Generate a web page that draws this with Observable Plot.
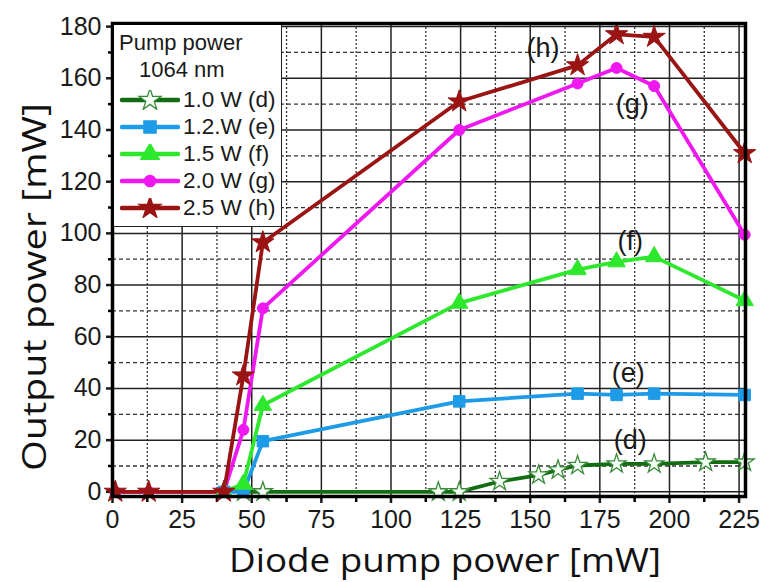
<!DOCTYPE html>
<html>
<head>
<meta charset="utf-8">
<script src="https://cdn.jsdelivr.net/npm/d3@7"></script>
<script src="https://cdn.jsdelivr.net/npm/@observablehq/plot@0.6"></script>
<style>
  html, body { margin: 0; padding: 0; background: #fff; }
  #wrap { position: relative; width: 764px; height: 582px; overflow: hidden; }
  #legend { position: absolute; background: #fff; border-right: 1.5px solid #222; border-bottom: 1.5px solid #222;
            font-family: "Liberation Sans", Arial, sans-serif; color: #1a1a1a; }
  .lg-row { position: absolute; display: flex; align-items: center; }
  .lg-row span { font-size: 22.5px; white-space: nowrap; margin-left: 3px; }
</style>
</head>
<body>
<div id="wrap"></div>
<script>
// ---------- data ----------
const xTicks = [0, 25, 50, 75, 100, 125, 150, 175, 200, 225];
const xMinor = [12.5, 37.5, 62.5, 87.5, 112.5, 137.5, 162.5, 187.5, 212.5];
const yTicks = [0, 20, 40, 60, 80, 100, 120, 140, 160, 180];
const yMinor = [10, 30, 50, 70, 90, 110, 130, 150, 170];

const seriesNames  = ["1.0 W (d)", "1.2.W (e)", "1.5 W (f)", "2.0 W (g)", "2.5 W (h)"];
const seriesTags   = ["(d)", "(e)", "(f)", "(g)", "(h)"];
const seriesColors = ["#126c12", "#1e9be6", "#2ee82e", "#f018f0", "#9a1414"];
const seriesSymbols = ["star", "square", "triangle", "circle", "star"];

const powerD = [47, 54, 117, 124.5, 139, 153, 160, 167, 181, 194.5, 213, 227];
const outD   = [0, 0, 0, 0, 4, 6.5, 8.5, 10.2, 10.8, 10.8, 11.5, 11.5];

const powerE = [40, 47, 54, 124.5, 167, 181, 194.5, 227];
const outE   = [0, 0, 19.6, 35, 38, 37.5, 38, 37.5];

const powerF = [40, 47, 54, 124.5, 167, 181, 194.5, 227];
const outF   = [0, 3, 33.5, 73, 86, 89, 91, 74];

const powerG = [1, 13, 40, 47, 54, 124.5, 167, 181, 194.5, 227];
const outG   = [0, 0, 0, 24, 71, 140, 158, 164, 157, 99.5];

const powerH = [1, 13, 40, 47, 54, 124.5, 167, 181, 194.5, 227];
const outH   = [0, 0, 0, 45, 96.5, 151, 165, 177, 176, 131];

// label anchors for (d)...(h)
const tagX = [185.9, 185.2, 185.9, 186.6, 154.6];
const tagY = [19.9, 46, 97, 150, 171.4];

const yTitle = "Output power [mW]";
const xTitle = "Diode pump power [mW]";

// ---------- build ----------
const powers = [powerD, powerE, powerF, powerG, powerH];
const outs   = [outD, outE, outF, outG, outH];
const tables = powers.map((p, i) => p.map((x, j) => ({x, y: outs[i][j], s: seriesNames[i]})));
const tags = seriesTags.map((t, i) => ({t, x: tagX[i], y: tagY[i]}));

const tickFont = "Liberation Sans, Arial, sans-serif";
const titleFont = "Open Sans, DejaVu Sans, sans-serif";

const marks = [
  Plot.ruleY(yMinor, {stroke: "#333", strokeWidth: 1.3, strokeDasharray: "4,3"}),
  Plot.ruleX(xMinor, {stroke: "#333", strokeWidth: 1.3, strokeDasharray: "2,2"}),
  Plot.ruleY(yTicks, {stroke: "#222", strokeWidth: 1.5}),
  Plot.ruleX(xTicks, {stroke: "#222", strokeWidth: 1.5}),
  Plot.axisY(yTicks, {anchor: "left", tickSize: 6, tickPadding: 5, fontSize: 25, fontFamily: tickFont, label: null, strokeWidth: 2.5, color: "#1a1a1a"}),
  Plot.axisY(yMinor, {anchor: "left", tickSize: 4, text: null, label: null, strokeWidth: 2.5}),
  Plot.axisX(xTicks, {anchor: "bottom", tickSize: 7, tickPadding: 7, fontSize: 25, fontFamily: tickFont, label: null, strokeWidth: 2.5, color: "#1a1a1a"}),
  Plot.axisX(xMinor, {anchor: "bottom", tickSize: 6, text: null, label: null, strokeWidth: 2.5})
];
tables.forEach((t, i) => {
  marks.push(Plot.line(t, {x: "x", y: "y", stroke: seriesColors[i], strokeWidth: 3.8}));
});
tables.forEach((t, i) => {
  const open = i === 0;
  marks.push(Plot.dot(t, {x: "x", y: "y", symbol: seriesSymbols[i],
    r: open ? 6 : (seriesSymbols[i] === "star" ? 7 : (seriesSymbols[i] === "circle" ? 5.5 : 6.5)),
    fill: open ? "#f4fff4" : seriesColors[i], stroke: open ? "#3a8a3a" : seriesColors[i], strokeWidth: open ? 1.3 : 1}));
});
marks.push(
  Plot.text(tags, {x: "x", y: "y", text: "t", fontSize: 27, fontFamily: tickFont, fill: "#1a1a1a"}),
  Plot.frame({stroke: "#000", strokeWidth: 3.5}),
  Plot.text([yTitle], {frameAnchor: "left", textAnchor: "middle", lineAnchor: "middle", rotate: -90, dx: -77, dy: 27, fontSize: 32, fontFamily: titleFont, fill: "#111", className: "ytitle"}),
  Plot.text([xTitle], {frameAnchor: "bottom", textAnchor: "middle", lineAnchor: "middle", dx: 16, dy: 65, fontSize: 33, fontFamily: titleFont, fill: "#111", className: "xtitle"})
);

const chart = Plot.plot({
  width: 764, height: 582,
  marginLeft: 112, marginRight: 19, marginTop: 23, marginBottom: 86,
  x: {domain: [0, 227.3]},
  y: {domain: [-1.8, 181.2]},
  style: {background: "#fff", overflow: "visible"},
  marks
});
// stretch axis titles to the reference's lengths
chart.querySelectorAll(".ytitle text").forEach(t => { t.setAttribute("textLength", 368); t.setAttribute("lengthAdjust", "spacingAndGlyphs"); });
chart.querySelectorAll(".xtitle text").forEach(t => { t.setAttribute("textLength", 432); t.setAttribute("lengthAdjust", "spacingAndGlyphs"); });
const wrap = document.getElementById("wrap");
wrap.appendChild(chart);

// ---------- legend (HTML overlay inside plot area) ----------
const lg = document.createElement("div");
lg.id = "legend";
Object.assign(lg.style, {left: "114px", top: "25px", width: "167px", height: "201px"});
const h1 = document.createElement("div");
h1.textContent = "Pump power";
Object.assign(h1.style, {position: "absolute", left: "5px", top: "5px", fontSize: "22px"});
const h2 = document.createElement("div");
h2.textContent = "1064 nm";
Object.assign(h2.style, {position: "absolute", left: "25px", top: "32px", fontSize: "22px"});
lg.appendChild(h1); lg.appendChild(h2);
seriesNames.forEach((name, i) => {
  const row = document.createElement("div");
  row.className = "lg-row";
  Object.assign(row.style, {left: "6px", top: (62 + i * 27) + "px", height: "26px"});
  const ns = "http://www.w3.org/2000/svg";
  const sv = document.createElementNS(ns, "svg");
  sv.setAttribute("width", "60"); sv.setAttribute("height", "20");
  const ln = document.createElementNS(ns, "line");
  ln.setAttribute("x1", 2); ln.setAttribute("x2", 58); ln.setAttribute("y1", 10); ln.setAttribute("y2", 10);
  ln.setAttribute("stroke", seriesColors[i]); ln.setAttribute("stroke-width", 4.5); ln.setAttribute("stroke-linecap", "round");
  sv.appendChild(ln);
  const symMap = {star: d3.symbolStar, square: d3.symbolSquare, triangle: d3.symbolTriangle, circle: d3.symbolCircle};
  const p = document.createElementNS(ns, "path");
  p.setAttribute("d", d3.symbol(symMap[seriesSymbols[i]], seriesSymbols[i] === "circle" ? 100 : 150)());
  p.setAttribute("transform", "translate(30,10)");
  p.setAttribute("fill", i === 0 ? "#f4fff4" : seriesColors[i]);
  p.setAttribute("stroke", i === 0 ? "#3a8a3a" : seriesColors[i]);
  p.setAttribute("stroke-width", 1.3);
  sv.appendChild(p);
  const tx = document.createElement("span");
  tx.textContent = name;
  row.appendChild(sv); row.appendChild(tx);
  lg.appendChild(row);
});
wrap.appendChild(lg);
</script>
</body>
</html>
